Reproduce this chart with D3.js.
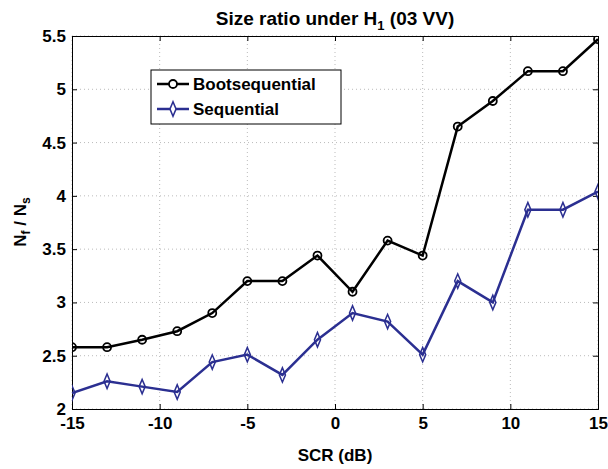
<!DOCTYPE html><html><head><meta charset="utf-8"><script src="https://cdn.jsdelivr.net/npm/d3@7"></script>
<style>body{margin:0;background:#fff}text{font-family:"Liberation Sans",Arial,sans-serif;font-weight:bold}</style></head><body>
<svg id="c" width="608" height="469"></svg>
<script>
const xs=[-15,-13,-11,-9,-7,-5,-3,-1,1,3,5,7,9,11,13,15];
const boot=[2.58,2.58,2.65,2.73,2.90,3.20,3.20,3.44,3.10,3.58,3.44,4.65,4.89,5.17,5.17,5.47];
const seq=[2.15,2.26,2.21,2.16,2.44,2.51,2.32,2.65,2.90,2.82,2.51,3.20,3.00,3.87,3.87,4.04];
const xTicks=[-15,-10,-5,0,5,10,15];
const yTicks=[2,2.5,3,3.5,4,4.5,5,5.5];
const svg=d3.select("#c");
const L=72,R=598,T=36,B=409;
const x=d3.scaleLinear().domain([-15,15]).range([L,R]);
const y=d3.scaleLinear().domain([2,5.5]).range([B,T]);
const g=svg.append("g");
xTicks.forEach(t=>g.append("line").attr("x1",x(t)).attr("x2",x(t)).attr("y1",T).attr("y2",B).attr("stroke","#bbb").attr("stroke-dasharray","1,3"));
yTicks.forEach(t=>g.append("line").attr("y1",y(t)).attr("y2",y(t)).attr("x1",L).attr("x2",R).attr("stroke","#bbb").attr("stroke-dasharray","1,3"));
svg.append("defs").append("clipPath").attr("id","cp").append("rect").attr("x",L).attr("y",T).attr("width",R-L).attr("height",B-T);
svg.append("g").attr("transform",`translate(0,${B})`).call(d3.axisBottom(x).tickValues(xTicks).tickSize(-5).tickPadding(8).tickFormat(d=>String(d)));
svg.append("g").attr("transform",`translate(${L},0)`).call(d3.axisLeft(y).tickValues(yTicks).tickSize(-5).tickPadding(6).tickFormat(d=>d));
svg.append("g").attr("transform",`translate(0,${T})`).call(d3.axisTop(x).tickValues(xTicks).tickSize(-5).tickFormat(""));
svg.append("g").attr("transform",`translate(${R},0)`).call(d3.axisRight(y).tickValues(yTicks).tickSize(-5).tickFormat(""));
svg.selectAll(".domain").attr("stroke","#000");
svg.selectAll(".tick text").attr("font-size",17).attr("fill","#000");
const pg=svg.append("g").attr("clip-path","url(#cp)");
const line=d3.line().x((d,i)=>x(xs[i])).y(d=>y(d));
pg.append("path").datum(boot).attr("d",line).attr("fill","none").attr("stroke","#000").attr("stroke-width",2.5);
pg.append("path").datum(seq).attr("d",line).attr("fill","none").attr("stroke","#2b2f91").attr("stroke-width",2.5);
pg.selectAll(".bm").data(boot).enter().append("circle").attr("cx",(d,i)=>x(xs[i])).attr("cy",d=>y(d)).attr("r",4).attr("fill","none").attr("stroke","#000").attr("stroke-width",1.8);
const dia=d3.symbol().type(d3.symbolDiamond).size(50);
pg.selectAll(".sm").data(seq).enter().append("path").attr("d",dia).attr("transform",(d,i)=>`translate(${x(xs[i])},${y(d)}) scale(0.8,1.1)`).attr("fill","none").attr("stroke","#2b2f91").attr("stroke-width",1.8);
svg.append("text").attr("x",335).attr("y",25).attr("text-anchor","middle").attr("font-size",19).html('Size ratio under H<tspan font-size="13" dy="5">1</tspan><tspan dy="-5"> (03 VV)</tspan>');
svg.append("text").attr("x",335).attr("y",461).attr("text-anchor","middle").attr("font-size",17).text("SCR (dB)");
svg.append("text").attr("transform","translate(26,222) rotate(-90)").attr("text-anchor","middle").attr("font-size",17).html('N<tspan font-size="12" dy="4">f</tspan><tspan dy="-4"> / N</tspan><tspan font-size="12" dy="4">s</tspan>');
const lg=svg.append("g");
lg.append("rect").attr("x",151).attr("y",70).attr("width",190).attr("height",54).attr("fill","#fff").attr("stroke","#000");
lg.append("line").attr("x1",157).attr("x2",189).attr("y1",84).attr("y2",84).attr("stroke","#000").attr("stroke-width",2.5);
lg.append("circle").attr("cx",173).attr("cy",84).attr("r",4).attr("fill","#fff").attr("stroke","#000").attr("stroke-width",1.8);
lg.append("text").attr("x",193).attr("y",90).attr("font-size",17).text("Bootsequential");
lg.append("line").attr("x1",157).attr("x2",189).attr("y1",109).attr("y2",109).attr("stroke","#2b2f91").attr("stroke-width",2.5);
lg.append("path").attr("d",dia).attr("transform","translate(173,109) scale(0.8,1.1)").attr("fill","#fff").attr("stroke","#2b2f91").attr("stroke-width",1.8);
lg.append("text").attr("x",193).attr("y",115).attr("font-size",17).text("Sequential");
</script></body></html>
